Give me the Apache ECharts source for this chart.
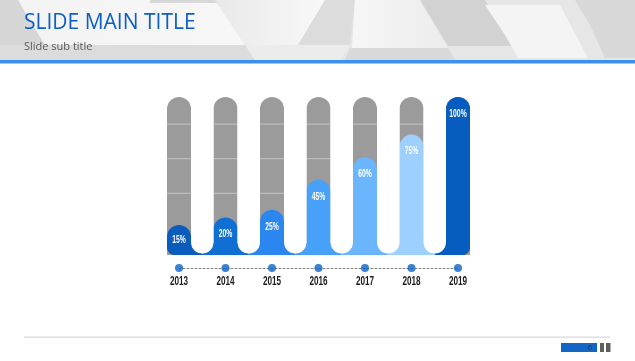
<!DOCTYPE html>
<html><head><meta charset="utf-8">
<script src="https://cdn.jsdelivr.net/npm/echarts@6/dist/echarts.min.js"></script>
<style>html,body{margin:0;padding:0;background:#fff}#c{width:635px;height:361px}</style>
</head><body><div id="c"></div><script>
const years = ['2013','2014','2015','2016','2017','2018','2019'];
const values = [15, 20, 25, 45, 60, 75, 100];
const maxValue = 100;
const gridLevels = [13, 36, 59, 82];
const barColors = ['#0a5cbd','#0f6fd2','#2c86ef','#48a1f8','#6ab5fd','#9dd0fe','#075dbf'];
const titleText = 'SLIDE MAIN TITLE';
const subTitleText = 'Slide sub title';
const pageNumber = '6';

const Y_MIN = -5;
const HW = 12;
const NARROW = 0.68;
const chart = echarts.init(document.getElementById('c'), null, {renderer: 'canvas'});

function renderBar(params, api) {
  const i = api.value(0), v = api.value(1);
  const last = years.length - 1;
  const cx = api.coord([i, 0])[0];
  const cw = api.size([1, 0])[0];
  const yTop = api.coord([i, maxValue])[1];
  const yBase = api.coord([i, Y_MIN])[1];
  const yVal = api.coord([i, v])[1];
  const color = barColors[i];
  const ch = [];
  ch.push({type: 'rect', shape: {x: cx - HW, y: yTop, width: HW * 2, height: yBase - yTop, r: [HW, HW, 0, 0]}, style: {fill: '#9b9b9b'}});
  gridLevels.forEach(l => {
    if (l > v) {
      const y = api.coord([i, l])[1];
      ch.push({type: 'line', shape: {x1: cx - HW, y1: y, x2: cx + HW, y2: y}, style: {stroke: '#c6c6c6', lineWidth: 1}});
    }
  });
  const footH = 12;
  const left = i === 0 ? cx - HW : cx - cw / 2;
  const right = i === last ? cx + HW : cx + cw / 2;
  ch.push({type: 'rect', shape: {x: left, y: yBase - footH, width: right - left, height: footH, r: [0, 0, i === last ? 8 : 0, i === 0 ? 8 : 0]}, style: {fill: color}});
  ch.push({type: 'rect', shape: {x: cx - HW, y: yVal, width: HW * 2, height: yBase - yVal, r: [HW, HW, i === last ? 8 : 0, i === 0 ? 8 : 0]}, style: {fill: color}});
  ch.push({type: 'text', x: cx, y: Math.min(yVal + 17, yBase - 15), scaleX: NARROW, style: {text: v + '%', x: 0, y: 0, align: 'center', verticalAlign: 'middle', fill: '#ffffff', font: 'bold 10px "Liberation Sans", Arial, sans-serif'}});
  return {type: 'group', children: ch};
}

function renderGap(params, api) {
  const i = api.value(0);
  if (i >= years.length - 1) return {type: 'group', children: []};
  const cx = api.coord([i, 0])[0];
  const cw = api.size([1, 0])[0];
  const yTop = api.coord([i, maxValue])[1];
  const yBase = api.coord([i, Y_MIN])[1];
  const x1 = cx + HW, x2 = cx + cw - HW, gw = x2 - x1;
  return {type: 'rect', shape: {x: x1, y: yTop - 3, width: gw, height: yBase - 1.5 - (yTop - 3), r: [0, 0, gw / 2, gw / 2]}, style: {fill: '#ffffff'}};
}

function renderYear(params, api) {
  const i = api.value(0);
  const p = api.coord([i, 0]);
  return {type: 'text', x: p[0], y: p[1] + 14, scaleX: 0.68, style: {text: years[i], x: 0, y: 0, align: 'center', verticalAlign: 'middle', fill: '#1a1a1a', font: 'bold 12px "Liberation Sans", Arial, sans-serif'}};
}

const LG = echarts.graphic.LinearGradient;
const header = [
  {type: 'rect', shape: {x: 0, y: 0, width: 635, height: 60}, style: {fill: '#e6e6e6'}},
  {type: 'polygon', shape: {points: [[0,0],[18,0],[45,45],[0,45]]}, style: {fill: '#d6d6d6'}},
  {type: 'polygon', shape: {points: [[18,0],[215,0],[245,45],[45,45]]}, style: {fill: new LG(0, 0, 1, 0, [{offset: 0, color: '#f3f3f3'}, {offset: 1, color: '#f7f7f7'}])}},
  {type: 'rect', shape: {x: 150, y: 0, width: 70, height: 3}, style: {fill: '#d8d8d8'}},
  {type: 'polygon', shape: {points: [[215,0],[325,0],[298,45],[245,45]]}, style: {fill: new LG(0, 0, 1, 0, [{offset: 0, color: '#e9e9e9'}, {offset: 1, color: '#f8f8f8'}])}},
  {type: 'polygon', shape: {points: [[325,0],[355,0],[350,45],[298,45]]}, style: {fill: '#dcdcdc'}},
  {type: 'polygon', shape: {points: [[355,0],[420,0],[448,48],[352,48]]}, style: {fill: new LG(0, 0, 1, 0, [{offset: 0, color: '#f6f6f6'}, {offset: 1, color: '#ececec'}])}},
  {type: 'polygon', shape: {points: [[420,0],[485,0],[512,46],[448,46]]}, style: {fill: '#d2d2d2'}},
  {type: 'polygon', shape: {points: [[485,5],[560,5],[588,58],[518,58],[505,35]]}, style: {fill: '#f4f4f4'}},
  {type: 'polygon', shape: {points: [[575,0],[635,0],[635,58],[605,58],[590,25]]}, style: {fill: '#d8d8d8'}},
  {type: 'polygon', shape: {points: [[0,45],[245,45],[255,60],[0,60]]}, style: {fill: '#dcdcdc'}},
  {type: 'polygon', shape: {points: [[245,45],[350,45],[340,60],[255,60]]}, style: {fill: '#ececec'}},
  {type: 'polygon', shape: {points: [[350,48],[448,48],[455,60],[345,60]]}, style: {fill: '#d9d9d9'}},
  {type: 'rect', shape: {x: 0, y: 60, width: 635, height: 3.5}, style: {fill: '#3b8ff0'}},
  {type: 'text', style: {text: titleText, x: 24, y: 23, verticalAlign: 'middle', font: '21px "Open Sans", sans-serif', fill: '#0b5fc6'}},
  {type: 'text', style: {text: subTitleText, x: 24, y: 47, verticalAlign: 'middle', font: '11px "Open Sans", sans-serif', fill: '#595959'}},
  {type: 'rect', shape: {x: 24, y: 336.5, width: 586, height: 1.2}, style: {fill: '#d9d9d9'}},
  {type: 'rect', shape: {x: 561, y: 343, width: 36, height: 9}, style: {fill: '#1166c6'}},
  {type: 'text', style: {text: pageNumber, x: 592, y: 347.5, align: 'right', verticalAlign: 'middle', font: '8px "Open Sans", sans-serif', fill: '#1f3a60'}},
  {type: 'rect', shape: {x: 600, y: 343, width: 4, height: 9}, style: {fill: '#5f5f5f'}},
  {type: 'rect', shape: {x: 606, y: 343, width: 4.5, height: 9}, style: {fill: '#5f5f5f'}}
];

const barData = values.map((v, i) => [i, v]);
const timelineData = years.map((y, i) => [i, 0]);

chart.setOption({
  animation: false,
  graphic: header,
  grid: [
    {left: 155.75, right: 153.75, top: 97, bottom: 106},
    {left: 179, right: 177, top: 258, height: 10}
  ],
  xAxis: [
    {gridIndex: 0, type: 'category', data: years, show: false, boundaryGap: true},
    {gridIndex: 1, type: 'category', data: years, boundaryGap: false,
     axisLine: {show: true, lineStyle: {color: '#808080', width: 1, type: [2, 2]}},
     axisTick: {show: false},
     axisLabel: {show: false}}
  ],
  yAxis: [
    {gridIndex: 0, type: 'value', min: Y_MIN, max: maxValue, show: false},
    {gridIndex: 1, type: 'value', min: 0, max: 1, show: false}
  ],
  series: [
    {type: 'custom', xAxisIndex: 0, yAxisIndex: 0, renderItem: renderBar, data: barData, z: 2, clip: false},
    {type: 'custom', xAxisIndex: 0, yAxisIndex: 0, renderItem: renderGap, data: barData, z: 3, clip: false},
    {type: 'scatter', xAxisIndex: 1, yAxisIndex: 1, data: timelineData, symbolSize: 8, itemStyle: {color: '#0b62c8'}, clip: false, z: 4},
    {type: 'custom', xAxisIndex: 1, yAxisIndex: 1, renderItem: renderYear, data: timelineData, z: 4, clip: false}
  ]
});
</script></body></html>
